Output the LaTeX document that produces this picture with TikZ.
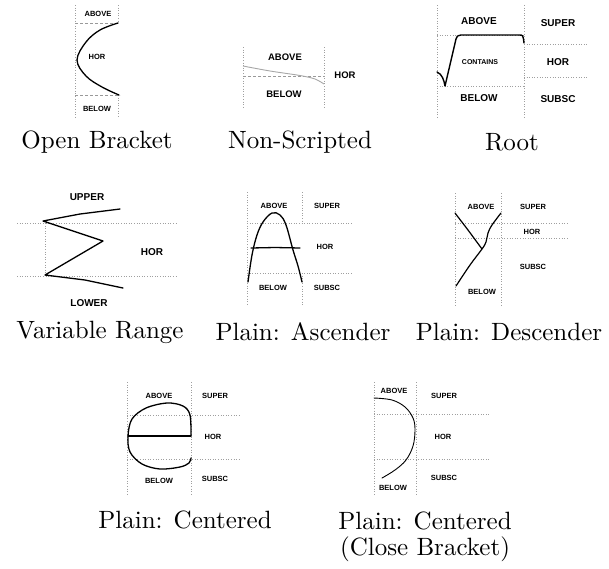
\documentclass[tikz,border=0pt]{standalone}
\usepackage{fontspec}
\setsansfont{Liberation Sans}
\newcommand{\mycaptext}[1]{\scalebox{2.5}{\fontsize{10}{12}\selectfont #1}}
\begin{document}
\begin{tikzpicture}[x=1pt,y=-1pt,
  guide/.style={gray!75, line width=0.6pt, dotted},
  dguide/.style={gray!80, line width=0.7pt, dash pattern=on 3pt off 2pt},
  ink/.style={black, line width=1.4pt, line cap=round, line join=round},
  lbl/.style={font=\sffamily\bfseries\fontsize{#1}{#1}\selectfont, inner sep=0pt},
  captxt/.style={inner sep=0pt}]
\useasboundingbox (0,0) rectangle (609,568);

% ---------- Panel 1: Open Bracket ----------
\draw[guide] (75,5) -- (75,118);
\draw[guide] (118,5) -- (118,23);
\draw[guide] (118,95) -- (118,118);
\draw[dguide] (75,23) -- (118,23);
\draw[dguide] (75,95) -- (120,95);
\draw[ink, line width=1.3pt] plot[smooth, tension=0.6] coordinates {(118,23) (100,30) (86,42) (77,60) (86,76) (102,87) (119,95)};
\node[lbl=7.5] (p1a) at (98,14) {ABOVE};
\node[lbl=7.5] (p1h) at (97,57) {HOR};
\node[lbl=7.5] (p1b) at (97,109) {BELOW};
\node[captxt] (c1) at (97,142) {\mycaptext{Open Bracket}};

% ---------- Panel 2: Non-Scripted ----------
\draw[guide] (243,47) -- (243,107);
\draw[guide] (324,47) -- (324,107);
\draw[dguide] (243,76) -- (324,76);
\draw[gray!70, line width=0.9pt] plot[smooth] coordinates {(243,66) (270,71) (300,75.5) (315,79) (324,84)};
\node[lbl=9.5] (p2a) at (285,57) {ABOVE};
\node[lbl=9.5] (p2b) at (284,94) {BELOW};
\node[lbl=9.5] (p2h) at (345,75) {HOR};
\node[captxt] (c2) at (300,142) {\mycaptext{Non-Scripted}};

% ---------- Panel 3: Root ----------
\draw[guide] (437,5) -- (437,117);
\draw[guide] (524,5) -- (524,117);
\draw[guide] (437,35) -- (524,35);
\draw[guide] (524,44) -- (587,44);
\draw[guide] (524,77) -- (587,77);
\draw[guide] (437,86) -- (524,86);
\draw[ink] (437,72) .. controls (442,74) and (444,80) .. (445,86) -- (456,39) .. controls (457,36) .. (461,35) -- (519,35) .. controls (523,35) .. (524,43);
\node[lbl=10] (p3a) at (479,21) {ABOVE};
\node[lbl=10] (p3s) at (558,23) {SUPER};
\node[lbl=7] (p3c) at (480,62) {CONTAINS};
\node[lbl=10] (p3h) at (558,62) {HOR};
\node[lbl=10] (p3b) at (479,98) {BELOW};
\node[lbl=10] (p3u) at (558,99) {SUBSC};
\node[captxt] (c3) at (512,142) {\mycaptext{Root}};

% ---------- Panel 4: Variable Range ----------
\draw[guide] (17,223) -- (178,223);
\draw[guide] (17,276) -- (178,276);
\draw[guide] (45,223) -- (45,276);
\draw[ink, line width=1.3pt] (120,209) -- (80,214) -- (43,221) -- (103,241) -- (45,275) -- (85,280) -- (123,288);
\node[lbl=10] (p4u) at (87,197) {UPPER};
\node[lbl=10] (p4h) at (152,252) {HOR};
\node[lbl=10] (p4l) at (89,303) {LOWER};
\node[captxt] (c4) at (100,332) {\mycaptext{Variable Range}};

% ---------- Panel 5: Plain: Ascender ----------
\draw[guide] (247,192) -- (247,305);
\draw[guide] (302,192) -- (302,223);
\draw[guide] (302,273) -- (302,305);
\draw[guide] (247,223) -- (353,223);
\draw[guide] (247,273) -- (353,273);
\draw[ink, line width=1.3pt] plot[smooth, tension=0.6] coordinates {(248,282) (252,255) (257,235) (263,222) (272,213) (280,215) (286,225) (293,250) (298,266) (302,282)};
\draw[ink, line width=1.3pt] (251,248) -- (275,247.5) -- (300,248);
\node[lbl=7.5] (p5a) at (274,206) {ABOVE};
\node[lbl=7.5] (p5s) at (327,206) {SUPER};
\node[lbl=7.5] (p5h) at (325,247) {HOR};
\node[lbl=7.5] (p5b) at (273,288) {BELOW};
\node[lbl=7.5] (p5u) at (327,288) {SUBSC};
\node[captxt] (c5) at (303,332) {\mycaptext{Plain: Ascender}};

% ---------- Panel 6: Plain: Descender ----------
\draw[guide] (455,193) -- (455,305);
\draw[guide] (501,193) -- (501,305);
\draw[guide] (455,223) -- (568,223);
\draw[guide] (455,238) -- (568,238);
\draw[ink, line width=1.2pt] (455,213) -- (468,230) -- (482,249);
\draw[ink, line width=1.2pt] plot[smooth, tension=0.6] coordinates {(501,213) (492,225) (488,233) (486,242) (482,249) (470,265) (456,286)};
\node[lbl=7.5] (p6a) at (481,207) {ABOVE};
\node[lbl=7.5] (p6s) at (533,207) {SUPER};
\node[lbl=7.5] (p6h) at (532,232) {HOR};
\node[lbl=7.5] (p6u) at (533,267) {SUBSC};
\node[lbl=7.5] (p6b) at (482,292) {BELOW};
\node[captxt] (c6) at (509,332) {\mycaptext{Plain: Descender}};

% ---------- Panel 7: Plain: Centered ----------
\draw[guide] (127,382) -- (127,496);
\draw[guide] (191,382) -- (191,496);
\draw[guide] (127,415) -- (241,415);
\draw[guide] (127,459) -- (241,459);
\draw[ink, line width=1.3pt] plot[smooth, tension=0.55] coordinates {(191,436) (190,415) (183,406) (167,403) (146,408) (132,419) (128,436) (130,452) (142,464) (160,469) (180,467) (189,463) (191,458)};
\draw[ink, line width=1.3pt] (191,436) -- (128,436);
\node[lbl=7.5] (p7a) at (159,396) {ABOVE};
\node[lbl=7.5] (p7s) at (215,396) {SUPER};
\node[lbl=7.5] (p7h) at (213,437) {HOR};
\node[lbl=7.5] (p7b) at (159,481) {BELOW};
\node[lbl=7.5] (p7u) at (215,479) {SUBSC};
\node[captxt] (c7) at (185,520) {\mycaptext{Plain: Centered}};

% ---------- Panel 8: Plain: Centered (Close Bracket) ----------
\draw[guide] (374,382) -- (374,496);
\draw[guide] (416,382) -- (416,496);
\draw[guide] (374,414) -- (489,414);
\draw[guide] (374,459) -- (489,459);
\draw[ink, line width=0.9pt] plot[smooth, tension=0.6] coordinates {(374,398) (392,400) (405,407) (413,418) (415,430) (413,446) (406,460) (395,470) (382,478)};
\node[lbl=7.5] (p8a) at (394,391) {ABOVE};
\node[lbl=7.5] (p8s) at (444,396) {SUPER};
\node[lbl=7.5] (p8h) at (443,437) {HOR};
\node[lbl=7.5] (p8u) at (444,478) {SUBSC};
\node[lbl=7.5] (p8b) at (393,488) {BELOW};
\node[captxt] (c8a) at (425,521) {\mycaptext{Plain: Centered}};
\node[captxt] (c8b) at (425,549) {\mycaptext{(Close Bracket)}};
\end{tikzpicture}
\end{document}
